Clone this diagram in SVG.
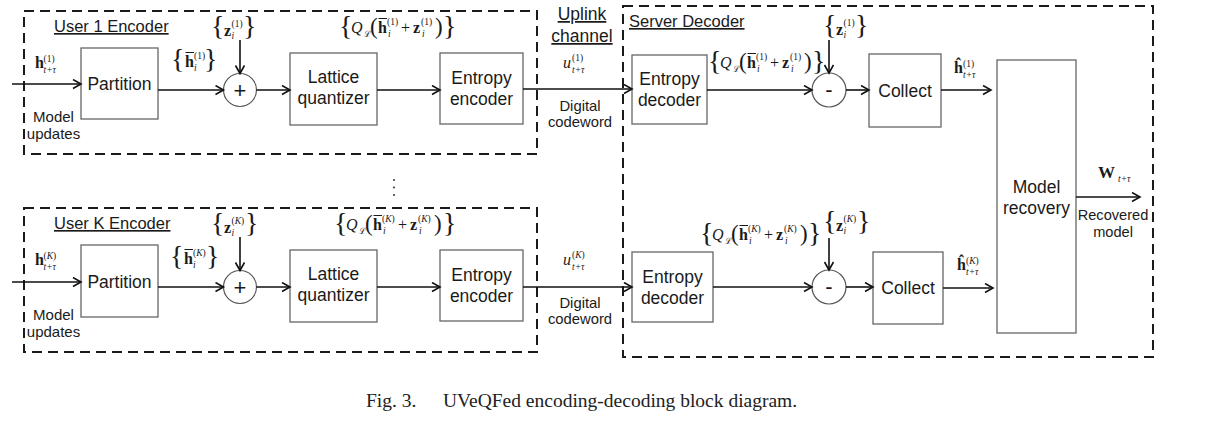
<svg xmlns="http://www.w3.org/2000/svg" width="1223" height="424" viewBox="0 0 1223 424">
<style>
.bg{fill:#fff}
.box{fill:#fff;stroke:#666;stroke-width:1.3}
.dash{fill:none;stroke:#1a1a1a;stroke-width:2;stroke-dasharray:10 6}
.cir{fill:#fff;stroke:#555;stroke-width:1.2}
.con{fill:none;stroke:#111;stroke-width:1.6}
.t{font-family:"Liberation Sans",Arial,sans-serif;fill:#1a1a1a}
.bx{font-size:17.5px;text-anchor:middle}
.ttl{font-size:16.5px;text-decoration:underline}
.sm{font-size:15px;text-anchor:middle}
.op{font-size:22px;text-anchor:middle}
.m{font-family:"Liberation Serif","Times New Roman",serif;fill:#1a1a1a}
.mb{font-size:16px;font-weight:bold}
.mi{font-size:16px;font-style:italic}
.mr{font-size:16px}
.s{font-size:9.5px}
.si{font-size:9.5px;font-style:italic}
.cal{font-family:"DejaVu Serif","Liberation Serif",serif;font-size:8.5px;fill:#1a1a1a}
.brc{font-size:28px}
.par{font-size:23px}
.ol{stroke:#1a1a1a;stroke-width:1}
.cap{font-family:"Liberation Serif","Times New Roman",serif;font-size:19.5px;fill:#222}
</style>
<defs>
<marker id="ah" markerUnits="userSpaceOnUse" markerWidth="12" markerHeight="12" refX="9" refY="5" orient="auto">
<path d="M1,0.5 L9,5 L1,9.5" fill="none" stroke="#111" stroke-width="1.6"/>
</marker>
</defs>
<rect class="bg" x="0" y="0" width="1223" height="424"/>

<!-- containers -->
<g id="user1-encoder">
<rect class="dash" x="24" y="11" width="513" height="143"/>
<text class="t ttl" x="54" y="32">User 1 Encoder</text>
</g>
<g id="userK-encoder">
<rect class="dash" x="24" y="208" width="513" height="144"/>
<text class="t ttl" x="54" y="229">User K Encoder</text>
</g>
<g id="server-decoder">
<rect class="dash" x="623" y="6" width="530" height="351"/>
<text class="t ttl" x="629" y="27">Server Decoder</text>
</g>
<g id="uplink-channel">
<text class="t" x="582" y="20" style="font-size:17.5px;text-anchor:middle;text-decoration:underline">Uplink</text>
<text class="t" x="582" y="42" style="font-size:17.5px;text-anchor:middle;text-decoration:underline">channel</text>
<text class="t" x="580" y="111" style="font-size:14.8px;text-anchor:middle">Digital</text>
<text class="t" x="580" y="127" style="font-size:14.8px;text-anchor:middle">codeword</text>
<text class="t" x="580" y="308" style="font-size:14.8px;text-anchor:middle">Digital</text>
<text class="t" x="580" y="324" style="font-size:14.8px;text-anchor:middle">codeword</text>
</g>

<!-- row 1 nodes -->
<g id="partition-1"><rect class="box" x="81" y="48" width="77" height="71"/><text class="t bx" x="119.5" y="90">Partition</text></g>
<g id="adder-1"><circle class="cir" cx="240" cy="90" r="16.5"/><text class="t op" x="240" y="97.5">+</text></g>
<g id="lattice-1"><rect class="box" x="290" y="53" width="87" height="72"/><text class="t bx" x="333.5" y="83">Lattice</text><text class="t bx" x="333.5" y="104">quantizer</text></g>
<g id="entropy-enc-1"><rect class="box" x="440" y="53" width="83" height="71"/><text class="t bx" x="481.5" y="84">Entropy</text><text class="t bx" x="481.5" y="105">encoder</text></g>
<g id="entropy-dec-1"><rect class="box" x="632" y="55" width="75" height="69"/><text class="t bx" x="669.5" y="85">Entropy</text><text class="t bx" x="669.5" y="106">decoder</text></g>
<g id="sub-1"><circle class="cir" cx="829" cy="90" r="17"/><text class="t op" x="829" y="97">-</text></g>
<g id="collect-1"><rect class="box" x="869" y="54" width="72" height="73"/><text class="t bx" x="905" y="97">Collect</text></g>

<!-- row K nodes -->
<g id="partition-K"><rect class="box" x="81" y="245" width="77" height="72"/><text class="t bx" x="119.5" y="288">Partition</text></g>
<g id="adder-K"><circle class="cir" cx="240" cy="287" r="16.5"/><text class="t op" x="240" y="294.5">+</text></g>
<g id="lattice-K"><rect class="box" x="290" y="250" width="87" height="72"/><text class="t bx" x="333.5" y="280">Lattice</text><text class="t bx" x="333.5" y="301">quantizer</text></g>
<g id="entropy-enc-K"><rect class="box" x="440" y="250" width="83" height="71"/><text class="t bx" x="481.5" y="281">Entropy</text><text class="t bx" x="481.5" y="302">encoder</text></g>
<g id="entropy-dec-K"><rect class="box" x="632" y="252" width="81" height="70"/><text class="t bx" x="672.5" y="283">Entropy</text><text class="t bx" x="672.5" y="304">decoder</text></g>
<g id="sub-K"><circle class="cir" cx="829" cy="287" r="17"/><text class="t op" x="829" y="294">-</text></g>
<g id="collect-K"><rect class="box" x="873" y="252" width="70" height="72"/><text class="t bx" x="908" y="294">Collect</text></g>

<g id="model-recovery"><rect class="box" x="997" y="60" width="79" height="273"/><text class="t bx" x="1036.5" y="193">Model</text><text class="t bx" x="1036.5" y="214">recovery</text></g>

<!-- connectors -->
<g id="connectors" class="con" marker-end="url(#ah)">
<path d="M12,84 H81"/>
<path d="M158,90 H223.5"/>
<path d="M240,40 V73.5"/>
<path d="M256.5,90 H290"/>
<path d="M377,90 H440"/>
<path d="M523,89 H632"/>
<path d="M707,90 H812"/>
<path d="M829,40 V73"/>
<path d="M846,90 H869"/>
<path d="M941,90 H991"/>
<path d="M1076,197 H1140"/>
<path d="M12,282 H81"/>
<path d="M158,287 H223.5"/>
<path d="M240,237 V270.5"/>
<path d="M256.5,287 H290"/>
<path d="M377,287 H440"/>
<path d="M523,287 H632"/>
<path d="M713,287 H812"/>
<path d="M829,238 V270"/>
<path d="M846,287 H873"/>
<path d="M943,288 H993"/>
</g>

<!-- plain labels -->
<g id="labels">
<text class="t sm" x="53.5" y="122">Model</text>
<text class="t sm" x="53.5" y="139">updates</text>
<text class="t sm" x="53.5" y="320">Model</text>
<text class="t sm" x="53.5" y="337">updates</text>
<text class="t" x="1113" y="220" style="font-size:14.6px;text-anchor:middle">Recovered</text>
<text class="t" x="1113" y="237" style="font-size:14.6px;text-anchor:middle">model</text>
<circle cx="394" cy="180" r="1" fill="#333"/>
<circle cx="394" cy="187.5" r="1" fill="#333"/>
<circle cx="394" cy="195" r="1" fill="#333"/>
</g>

<!-- math labels -->
<g id="math">
<g transform="translate(35,68)"><text class="m mb" x="0" y="0">h</text><text class="m s" x="8.5" y="-6">(1)</text><text class="m si" x="8.5" y="5">t+τ</text></g>
<g transform="translate(35,265)"><text class="m mb" x="0" y="0">h</text><text class="m s" x="8.5" y="-6">(<tspan font-style="italic">K</tspan>)</text><text class="m si" x="8.5" y="5">t+τ</text></g>
<g transform="translate(176,67)"><text class="m brc" x="-5" y="1">{</text><text class="m mb" x="9" y="0">h</text><line class="ol" x1="9.5" y1="-14.5" x2="18" y2="-14.5"/><text class="m s" x="18" y="-8">(1)</text><text class="m si" x="18" y="3.5">i</text><text class="m brc" x="28" y="1">}</text></g>
<g transform="translate(175,264)"><text class="m brc" x="-5" y="1">{</text><text class="m mb" x="9" y="0">h</text><line class="ol" x1="9.5" y1="-14.5" x2="18" y2="-14.5"/><text class="m s" x="18" y="-8">(<tspan font-style="italic">K</tspan>)</text><text class="m si" x="18" y="3.5">i</text><text class="m brc" x="31" y="1">}</text></g>
<g transform="translate(214,36)"><text class="m brc" x="-3" y="-1">{</text><text class="m mb" x="10" y="0">z</text><text class="m s" x="17.5" y="-9">(1)</text><text class="m si" x="17.5" y="3">i</text><text class="m brc" x="29" y="-1">}</text></g>
<g transform="translate(214,233)"><text class="m brc" x="-3" y="-1">{</text><text class="m mb" x="10" y="0">z</text><text class="m s" x="17.5" y="-9">(<tspan font-style="italic">K</tspan>)</text><text class="m si" x="17.5" y="3">i</text><text class="m brc" x="31" y="-1">}</text></g>
<g transform="translate(826,35)"><text class="m brc" x="-3" y="-1">{</text><text class="m mb" x="10" y="0">z</text><text class="m s" x="17.5" y="-9">(1)</text><text class="m si" x="17.5" y="3">i</text><text class="m brc" x="29" y="-1">}</text></g>
<g transform="translate(826,231)"><text class="m brc" x="-3" y="-1">{</text><text class="m mb" x="10" y="0">z</text><text class="m s" x="17.5" y="-9">(<tspan font-style="italic">K</tspan>)</text><text class="m si" x="17.5" y="3">i</text><text class="m brc" x="31" y="-1">}</text></g>
<g transform="translate(342,33)"><text class="m brc" x="-3" y="2">{</text><text class="m mi" x="9" y="0">Q</text><text class="cal" x="21.5" y="4">ℒ</text><text class="m par" x="28" y="1">(</text><text class="m mb" x="36" y="0">h</text><line class="ol" x1="36.5" y1="-14.5" x2="45" y2="-14.5"/><text class="m s" x="45" y="-8.5">(1)</text><text class="m si" x="46" y="4">i</text><text class="m mr" x="59" y="0">+</text><text class="m mb" x="71" y="0">z</text><text class="m s" x="79" y="-8.5">(1)</text><text class="m si" x="80" y="4">i</text><text class="m par" x="93" y="1">)</text><text class="m brc" x="101" y="2">}</text></g>
<g transform="translate(337,230)"><text class="m brc" x="-3" y="2">{</text><text class="m mi" x="9" y="0">Q</text><text class="cal" x="21.5" y="4">ℒ</text><text class="m par" x="28" y="1">(</text><text class="m mb" x="36" y="0">h</text><line class="ol" x1="36.5" y1="-14.5" x2="45" y2="-14.5"/><text class="m s" x="45" y="-8.5">(<tspan font-style="italic">K</tspan>)</text><text class="m si" x="46" y="4">i</text><text class="m mr" x="61" y="0">+</text><text class="m mb" x="73" y="0">z</text><text class="m s" x="81" y="-8.5">(<tspan font-style="italic">K</tspan>)</text><text class="m si" x="82" y="4">i</text><text class="m par" x="97" y="1">)</text><text class="m brc" x="106" y="2">}</text></g>
<g transform="translate(711,68)"><text class="m brc" x="-3" y="2">{</text><text class="m mi" x="9" y="0">Q</text><text class="cal" x="21.5" y="4">ℒ</text><text class="m par" x="28" y="1">(</text><text class="m mb" x="36" y="0">h</text><line class="ol" x1="36.5" y1="-14.5" x2="45" y2="-14.5"/><text class="m s" x="45" y="-8.5">(1)</text><text class="m si" x="46" y="4">i</text><text class="m mr" x="59" y="0">+</text><text class="m mb" x="71" y="0">z</text><text class="m s" x="79" y="-8.5">(1)</text><text class="m si" x="80" y="4">i</text><text class="m par" x="93" y="1">)</text><text class="m brc" x="101" y="2">}</text></g>
<g transform="translate(703,240)"><text class="m brc" x="-3" y="2">{</text><text class="m mi" x="9" y="0">Q</text><text class="cal" x="21.5" y="4">ℒ</text><text class="m par" x="28" y="1">(</text><text class="m mb" x="36" y="0">h</text><line class="ol" x1="36.5" y1="-14.5" x2="45" y2="-14.5"/><text class="m s" x="45" y="-8.5">(<tspan font-style="italic">K</tspan>)</text><text class="m si" x="46" y="4">i</text><text class="m mr" x="61" y="0">+</text><text class="m mb" x="73" y="0">z</text><text class="m s" x="81" y="-8.5">(<tspan font-style="italic">K</tspan>)</text><text class="m si" x="82" y="4">i</text><text class="m par" x="97" y="1">)</text><text class="m brc" x="105" y="2">}</text></g>
<g transform="translate(563,68)"><text class="m mi" x="0" y="0">u</text><text class="m s" x="9" y="-7">(1)</text><text class="m si" x="9" y="5">t+τ</text></g>
<g transform="translate(563,265)"><text class="m mi" x="0" y="0">u</text><text class="m s" x="9" y="-7">(<tspan font-style="italic">K</tspan>)</text><text class="m si" x="9" y="5">t+τ</text></g>
<g transform="translate(954,73)"><text class="m mb" x="0" y="0">ĥ</text><text class="m s" x="9" y="-6.5">(1)</text><text class="m si" x="9" y="5">t+τ</text></g>
<g transform="translate(957,270)"><text class="m mb" x="0" y="0">ĥ</text><text class="m s" x="9" y="-6.5">(<tspan font-style="italic">K</tspan>)</text><text class="m si" x="9" y="5">t+τ</text></g>
<g transform="translate(1098,178)"><text class="m" x="0" y="0" style="font-size:17px;font-weight:bold">W</text><text class="m si" x="20" y="4">t+τ</text></g>
</g>

<text class="cap" x="366" y="407">Fig. 3.</text>
<text class="cap" x="443" y="407">UVeQFed encoding-decoding block diagram.</text>
</svg>
